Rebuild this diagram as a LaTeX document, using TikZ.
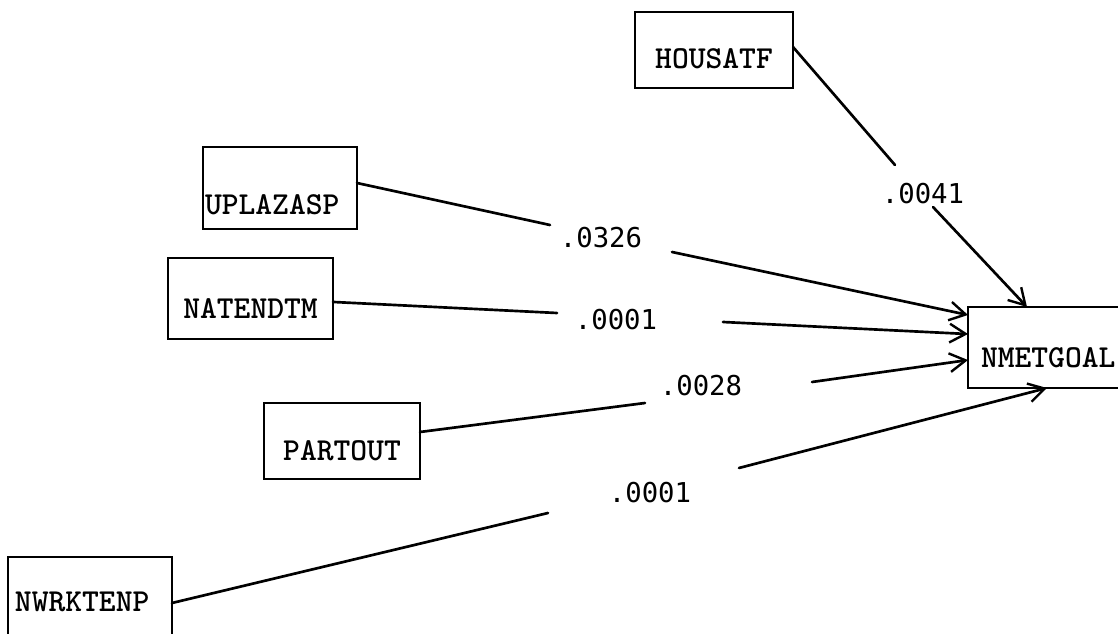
\documentclass[tikz,border=0pt]{standalone}
\usepackage{fontspec}
\usetikzlibrary{arrows.meta}
\newfontfamily\numfont{DejaVu Sans Mono}
\tikzset{
  box/.style={draw, line width=1.7pt, rectangle, inner sep=0pt, outer sep=0pt,
    font=\ttfamily\bfseries\fontsize{24}{28}\selectfont, text depth=0pt},
  lbl/.style={inner sep=0pt, font=\numfont\fontsize{20.5}{24}\selectfont},
  conn/.style={line width=2pt, line cap=round},
  arr/.style={conn, -{Straight Barb[length=12pt, width=14pt, line width=1.8pt]}}
}
\begin{document}
\begin{tikzpicture}[x=0.75pt, y=-0.75pt]
\useasboundingbox (0,0) rectangle (1118,634);
% boxes
\node[box, minimum width=118.5pt, minimum height=57pt, text height=28.2pt] (housatf) at (714,50) {HOUSATF};
\node[box, minimum width=115.5pt, minimum height=61.5pt, text height=40.2pt, text width=112.5pt, align=left] (uplazasp) at (280,188) {UPLAZASP};
\node[box, minimum width=123.75pt, minimum height=60.75pt, text height=29.7pt] (natendtm) at (250.5,298.5) {NATENDTM};
\node[box, minimum width=117pt, minimum height=57pt, text height=29.7pt] (partout) at (342,441) {PARTOUT};
\node[box, minimum width=123pt, minimum height=67.5pt, text height=14.7pt, text width=112.5pt, align=left] (nwrktenp) at (90,602) {NWRKTENP};
\node[box, minimum width=121.5pt, minimum height=60.75pt, text height=29.7pt, text width=102pt, align=left] (nmetgoal) at (1049,347.5) {NMETGOAL};
% labels
\node[lbl] (l0041) at (923,194) {.0041};
\node[lbl] (l0326) at (601,238) {.0326};
\node[lbl] (l0001a) at (616,320) {.0001};
\node[lbl] (l0028) at (701,386) {.0028};
\node[lbl] (l0001b) at (650,493) {.0001};
% break points
\coordinate (h1) at (895,165); \coordinate (h2) at (933,207);
\coordinate (u1) at (550,225); \coordinate (u2) at (672,252);
\coordinate (n1) at (557,313); \coordinate (n2) at (723,322);
\coordinate (p1) at (645,403); \coordinate (p2) at (812,382);
\coordinate (w1) at (548,513); \coordinate (w2) at (739,468);
% connectors
\draw[conn] ([yshift=2.25pt]housatf.east) -- (h1);
\draw[arr] (h2) -- ([xshift=-16.5pt]nmetgoal.north);
\draw[conn] ([yshift=3.75pt]uplazasp.east) -- (u1);
\draw[arr] (u2) -- ([yshift=24.4pt]nmetgoal.west);
\draw[conn] ([yshift=-2.6pt]natendtm.east) -- (n1);
\draw[arr] (n2) -- ([yshift=10.1pt]nmetgoal.west);
\draw[conn] ([yshift=6.75pt]partout.east) -- (p1);
\draw[arr] (p2) -- ([yshift=-9.4pt]nmetgoal.west);
\draw[conn] ([yshift=-0.75pt]nwrktenp.east) -- (w1);
\draw[arr] (w2) -- ([xshift=-1.5pt]nmetgoal.south);
\end{tikzpicture}
\end{document}
